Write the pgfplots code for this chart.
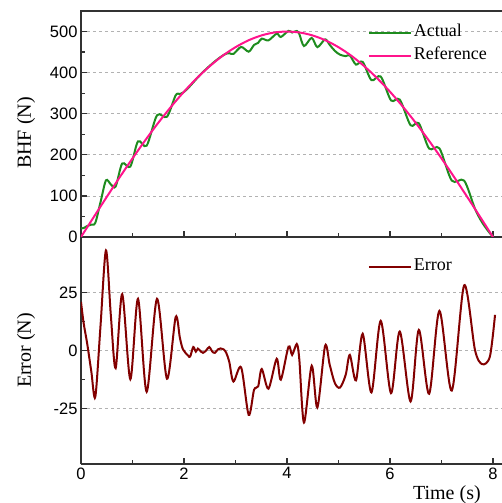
\documentclass[border=0pt]{standalone}
\usepackage{fontspec}
\setmainfont{Liberation Serif}
\newfontfamily\sansnum{Liberation Sans}
\usepackage{pgfplots}
\pgfplotsset{compat=1.18}
\definecolor{actgreen}{RGB}{30,140,30}
\definecolor{refpink}{RGB}{255,20,140}
\definecolor{errred}{RGB}{130,0,0}
\definecolor{axgray}{RGB}{50,50,50}

\pgfplotsset{
  common/.style={
    scale only axis, width=423pt, xmin=0, xmax=8.214,
    xtick={0,2,4,6,8}, minor x tick num=1, minor y tick num=1,
    tick align=inside, xtick pos=bottom, ytick pos=left,
    major tick length=6pt, minor tick length=4pt,
    every tick/.style={axgray, line width=1.2pt},
    axis line style={axgray, line width=1.5pt},
    ymajorgrids, major grid style={gray!60, line width=0.8pt, dash pattern=on 3pt off 3pt},
    tick label style={font=\sansnum\fontsize{16.5}{16.5}\selectfont},
    /pgf/number format/assume math mode=true,
    label style={font=\fontsize{20}{20}\selectfont},
    legend cell align=left,
    legend image code/.code={\draw[#1] (0pt,0pt) -- (42pt,0pt);},
    legend style={draw=none, fill=none, font=\fontsize{18}{18}\selectfont,
      inner sep=0pt, row sep=2pt,
      nodes={inner sep=2pt, text height=12pt, text depth=5pt}, anchor=north west},
  }
}

\begin{document}
\begin{tikzpicture}
% bottom: error
\begin{axis}[common, at={(0,0)}, anchor=south west, height=227pt,
    axis x line*=bottom, axis y line*=left,
    ymin=-49, ymax=49, ytick={-25,0,25}, yticklabels={-25,0,25},
    ylabel={Error (N)}, xlabel={Time (s)},
    ylabel style={at={(axis description cs:-0.13,0.5)}, anchor=center},
    xlabel style={at={(axis description cs:0.865,-0.137)}, anchor=center},
    legend style={at={(axis description cs:0.678,0.914)}},
]
\addplot[errred, line width=2pt, smooth] coordinates {
(0,21.0)(0.05,12.0)(0.12,3.0)(0.20,-9.0)(0.278,-20.0)(0.38,11.0)(0.485,43.2)
(0.58,15.0)(0.673,-7.6)(0.80,24.3)(0.958,-12.4)(1.107,22.3)(1.275,-17.8)
(1.476,22.3)(1.67,-12.2)(1.838,14.4)(1.92,5.5)(1.98,0.5)(2.08,-2.2)(2.12,-2.6)
(2.18,1.5)(2.23,-0.5)(2.27,0.8)(2.33,-0.5)(2.37,-1.0)(2.43,0.0)(2.49,1.5)
(2.55,-0.5)(2.60,-1.0)(2.66,0.5)(2.71,0.9)(2.77,0.5)(2.82,-1.0)(2.88,-5.0)
(2.96,-13.4)(3.11,-7.3)(3.256,-27.8)(3.36,-17.0)(3.44,-15.5)(3.51,-8.0)
(3.64,-16.5)(3.80,-3.6)(3.88,-12.6)(4.03,1.7)(4.10,-1.9)(4.19,2.8)(4.24,-4.0)
(4.33,-31.1)(4.48,-6.6)(4.59,-24.6)(4.74,2.0)(4.83,-6.2)(4.93,-14.1)(5.03,-16.0)
(5.14,-10.5)(5.22,-1.9)(5.34,-12.9)(5.47,7.2)(5.64,-18.1)(5.82,12.8)(6.02,-18.4)
(6.19,8.2)(6.40,-22.0)(6.56,8.9)(6.76,-18.7)(6.96,17.1)(7.20,-17.3)(7.44,28.1)
(7.65,0.3)(7.79,-5.9)(7.94,-2.6)(8.04,15.4)};
\addlegendentry{Error}
\end{axis}
% top: BHF
\begin{axis}[common, at={(0,227pt)}, anchor=south west, height=226pt,
    ymin=0, ymax=550, ytick={0,100,...,500}, xticklabels={},
    ylabel={BHF (N)},
    ylabel style={at={(axis description cs:-0.13,0.46)}, anchor=center},
    legend style={at={(axis description cs:0.678,0.949)}},
]
\addplot[actgreen, line width=2pt, smooth] coordinates {
(0,21.0)(0.05,21.8)(0.12,26.6)(0.20,30.2)(0.278,34.5)(0.38,85.3)(0.485,137.9)
(0.58,127.9)(0.673,123.0)(0.80,178.8)(0.958,171.3)(1.107,232.9)(1.275,222.2)
(1.476,296.2)(1.67,292.7)(1.838,344.8)(1.92,347.8)(1.98,351.3)(2.08,362.3)
(2.3,392.7)(2.5,416.7)(2.7,437.2)(2.82,446.2)(2.88,447.4)(2.96,445.5)(3.11,462.5)
(3.256,451.0)(3.36,467.3)(3.44,472.5)(3.51,482.8)(3.64,478.5)(3.80,494.9)
(3.88,486.8)(4.03,501.7)(4.10,497.7)(4.19,501.4)(4.24,493.8)(4.33,464.7)
(4.48,484.5)(4.59,462.0)(4.74,481.0)(4.83,467.5)(4.93,452.9)(5.03,443.7)
(5.14,440.2)(5.22,441.8)(5.34,419.5)(5.47,426.2)(5.64,381.7)(5.82,390.6)
(6.02,332.4)(6.19,334.4)(6.40,271.9)(6.56,276.8)(6.76,215.3)(6.96,215.7)
(7.20,137.2)(7.44,137.2)(7.65,68.8)(7.79,35.3)(7.94,9.2)(8.0,2.0)};
\addlegendentry{Actual}
\addplot[refpink, line width=2pt, smooth] coordinates {
(0,0)(0.25,49.0)(0.5,97.5)(0.75,145.1)(1,191.3)(1.25,235.7)(1.5,277.8)
(1.75,317.2)(2,353.6)(2.25,386.5)(2.5,415.7)(2.75,441.0)(3,461.9)(3.25,478.5)
(3.5,490.4)(3.75,497.6)(4,500)(4.25,497.6)(4.5,490.4)(4.75,478.5)(5,461.9)
(5.25,441.0)(5.5,415.7)(5.75,386.5)(6,353.6)(6.25,317.2)(6.5,277.8)(6.75,235.7)
(7,191.3)(7.25,145.1)(7.5,97.5)(7.75,49.0)(8,0)};
\addlegendentry{Reference}
\end{axis}
\pgfresetboundingbox
\path[use as bounding box] (-81pt,-39pt) rectangle (421pt,464pt);
\end{tikzpicture}
\end{document}
